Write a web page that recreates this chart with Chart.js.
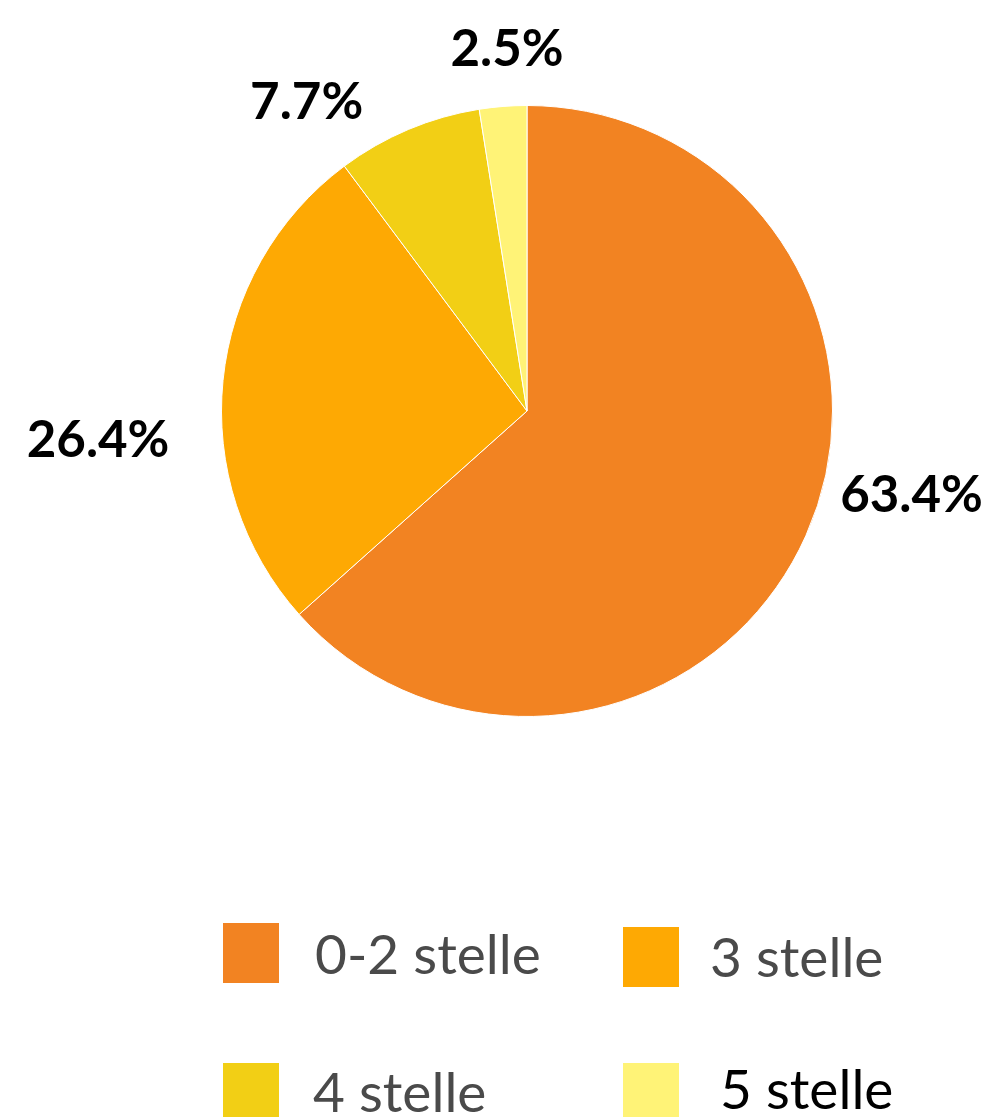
<!DOCTYPE html>
<html>
<head>
<meta charset="utf-8">
<script src="https://cdn.jsdelivr.net/npm/chart.js@4/dist/chart.umd.min.js"></script>
<style>
  html, body { margin: 0; padding: 0; background: #fff; }
  canvas { display: block; }
</style>
</head>
<body>
<canvas id="c" width="1004" height="1117"></canvas>
<script>
// ---- data ----
const categories = ["0-2 stelle", "3 stelle", "4 stelle", "5 stelle"];
const shares = [63.4, 26.4, 7.7, 2.5];
const sliceLabels = ["63.4%", "26.4%", "7.7%", "2.5%"];
const sliceColors = ["#F28322", "#FEA903", "#F2CF15", "#FFF377"];

// ---- layout / style (not data) ----
const labelOffsets = [[36, -55], [-49, 84], [-72, 60], [10, 36]];
const legendBoxes = [[223, 923], [623, 927], [223, 1063], [623, 1063]];
const legendText = [[315, 974], [710, 977], [313, 1112], [720, 1109]];
const legendTextColors = ["#4a4a4a", "#4a4a4a", "#4a4a4a", "#000000"];

const outsideLabels = {
  id: 'outsideLabels',
  afterDraw(chart) {
    const ctx = chart.ctx;
    const meta = chart.getDatasetMeta(0);
    ctx.save();
    ctx.font = "bold 51px Lato";
    ctx.fillStyle = "#000";
    ctx.textAlign = "center";
    ctx.textBaseline = "alphabetic";
    meta.data.forEach((arc, i) => {
      const p = arc.getProps(['x', 'y', 'startAngle', 'endAngle', 'outerRadius'], true);
      const mid = (p.startAngle + p.endAngle) / 2;
      const r = p.outerRadius * 1.25;
      const x = p.x + Math.cos(mid) * r + labelOffsets[i][0];
      const y = p.y + Math.sin(mid) * r + labelOffsets[i][1];
      ctx.fillText(sliceLabels[i], x, y);
    });
    // legend
    ctx.textAlign = "left";
    ctx.font = "55px Lato";
    categories.forEach((name, i) => {
      ctx.fillStyle = sliceColors[i];
      ctx.fillRect(legendBoxes[i][0], legendBoxes[i][1], 56, 60);
      ctx.fillStyle = legendTextColors[i];
      ctx.fillText(name, legendText[i][0], legendText[i][1]);
    });
    ctx.restore();
  }
};

new Chart(document.getElementById('c'), {
  type: 'pie',
  data: {
    labels: categories,
    datasets: [{
      data: shares,
      backgroundColor: sliceColors,
      borderColor: "#ffffff",
      borderWidth: 1
    }]
  },
  options: {
    responsive: false,
    animation: false,
    layout: { padding: { left: 221, right: 171, top: 104, bottom: 399 } },
    plugins: {
      legend: { display: false },
      tooltip: { enabled: false }
    }
  },
  plugins: [outsideLabels]
});
</script>
</body>
</html>
